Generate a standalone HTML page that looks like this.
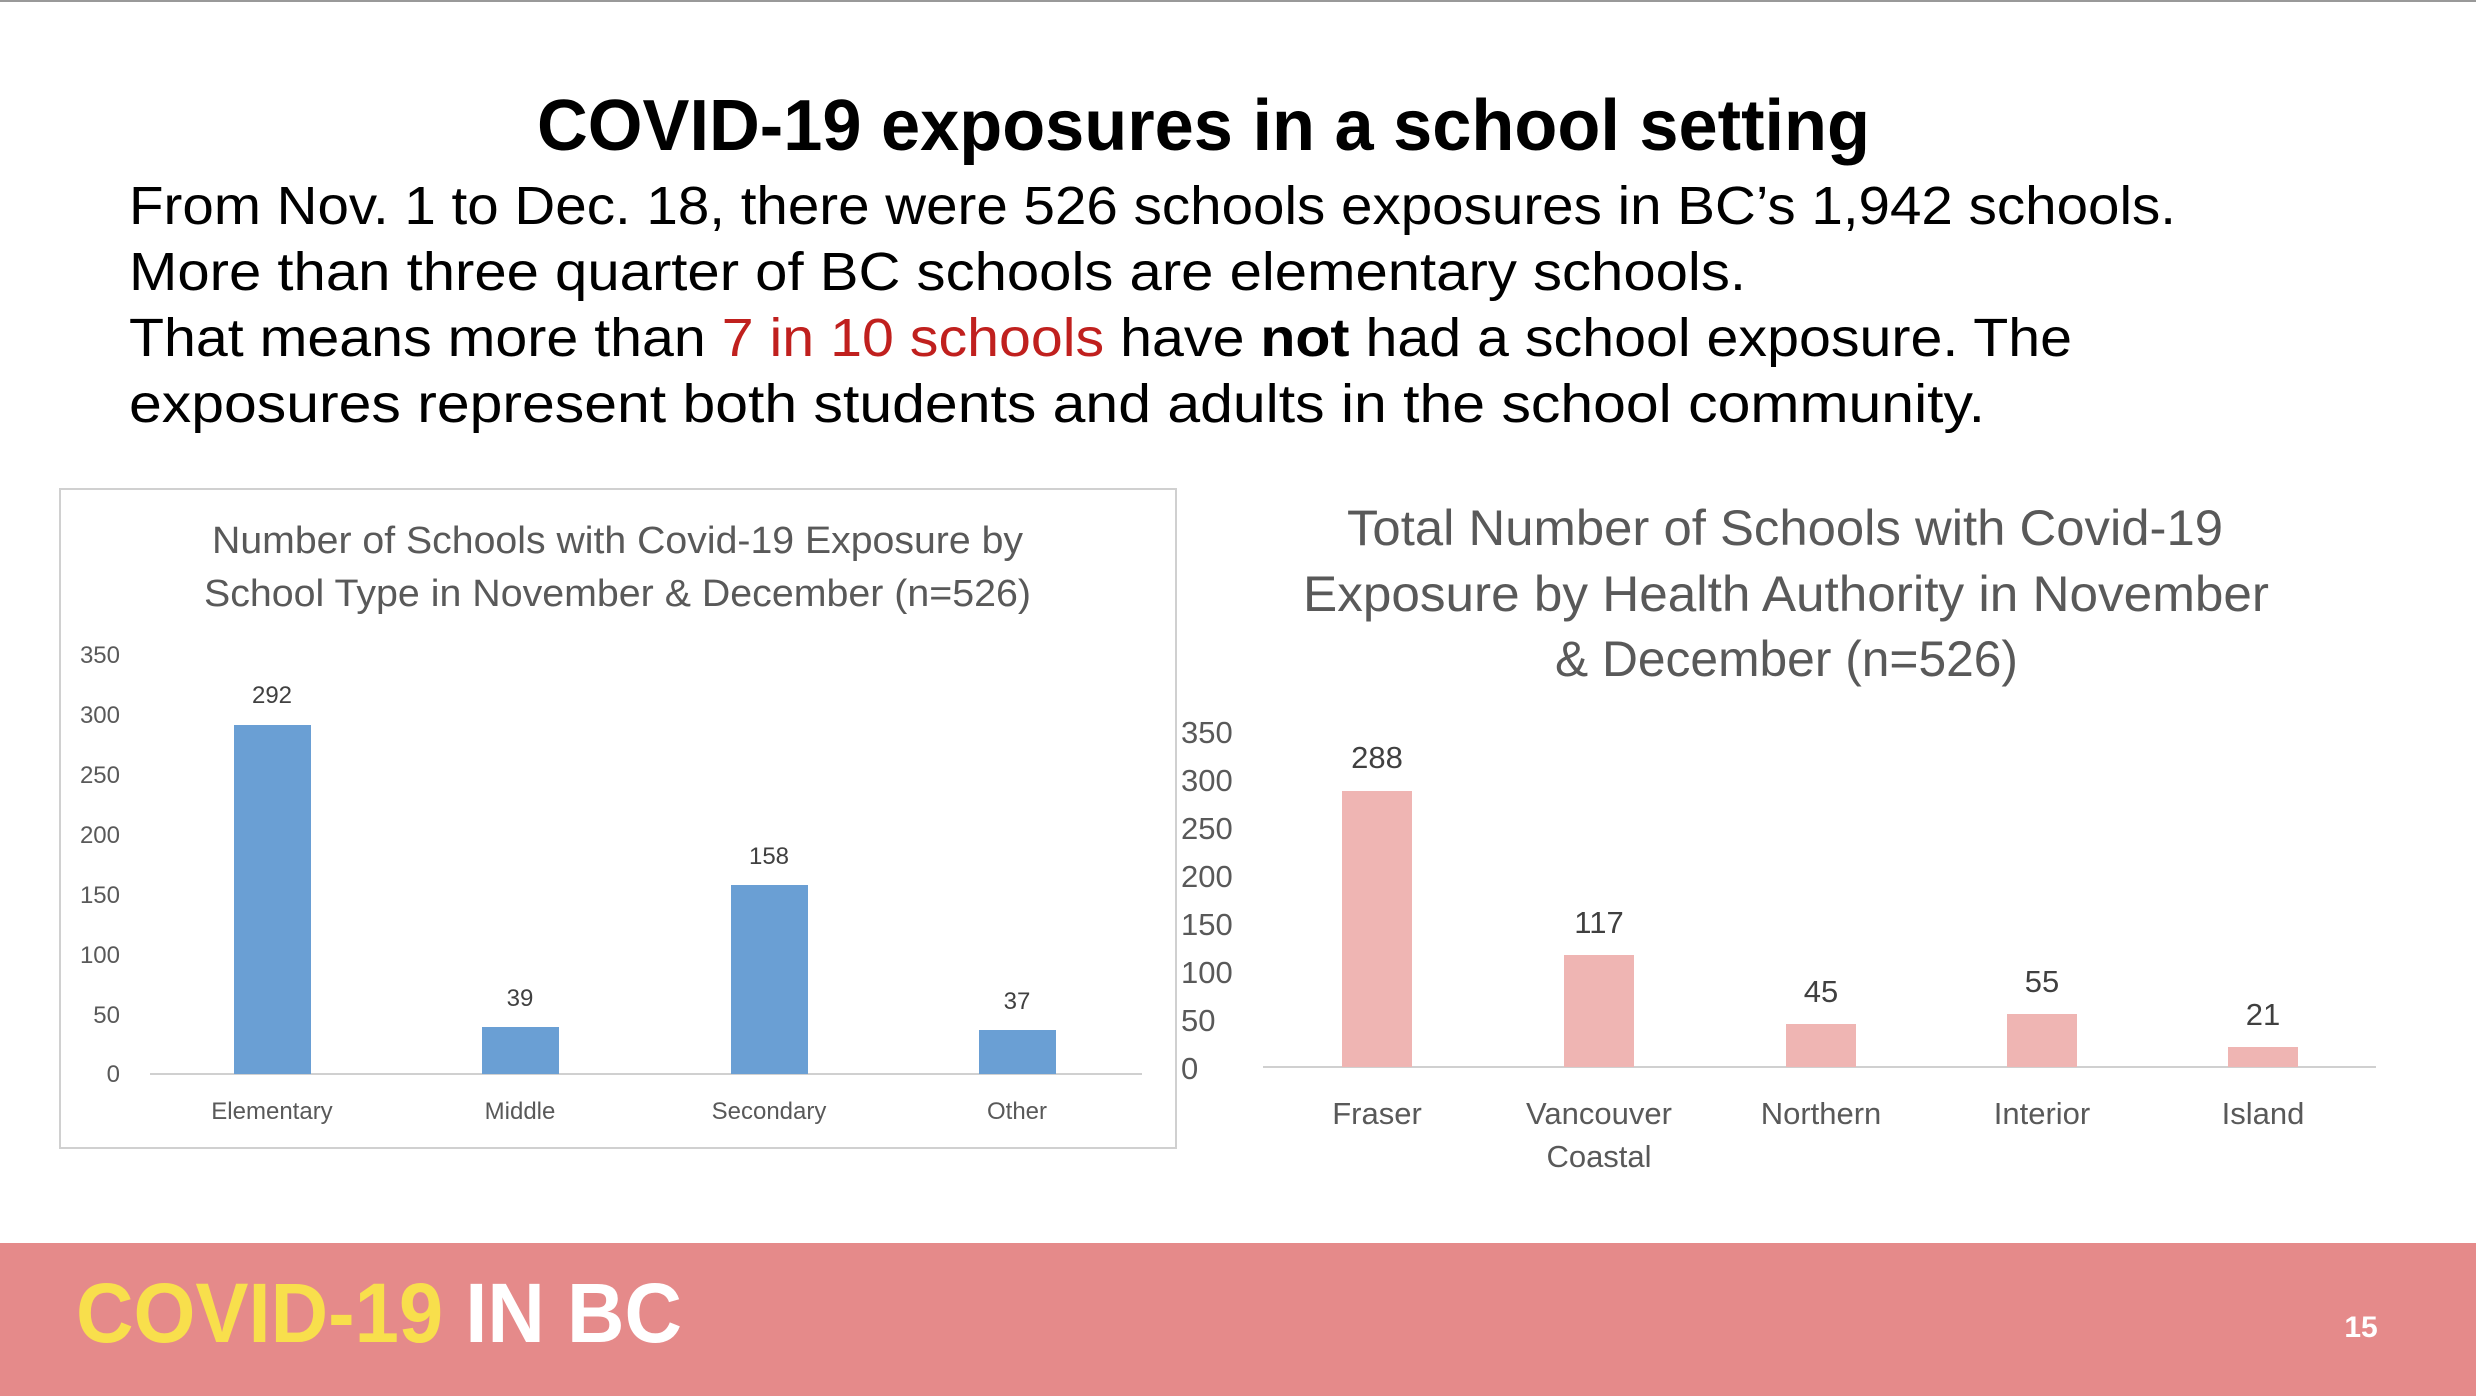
<!DOCTYPE html>
<html><head><meta charset="utf-8"><style>
html,body{margin:0;padding:0;background:#fff;}
svg{display:block;}
text{font-family:"Liberation Sans","DejaVu Sans",sans-serif;}
</style></head><body>
<svg width="2476" height="1396" viewBox="0 0 2476 1396" xmlns="http://www.w3.org/2000/svg">
<rect width="2476" height="1396" fill="#fff"/>
<line x1="0" y1="1" x2="2476" y2="1" stroke="#999" stroke-width="2"/>
<text x="537" y="150" font-size="72" font-weight="bold" fill="#000" textLength="1333" lengthAdjust="spacingAndGlyphs">COVID-19 exposures in a school setting</text>
<g font-size="54" fill="#000">
<text x="129" y="224" textLength="2047" lengthAdjust="spacingAndGlyphs">From Nov. 1 to Dec. 18, there were 526 schools exposures in BC’s 1,942 schools.</text>
<text x="129" y="290" textLength="1617" lengthAdjust="spacingAndGlyphs">More than three quarter of BC schools are elementary schools.</text>
<text x="129" y="356" textLength="1943" lengthAdjust="spacingAndGlyphs">That means more than <tspan fill="#c0201e">7 in 10 schools</tspan> have <tspan font-weight="bold">not</tspan> had a school exposure. The</text>
<text x="129" y="422" textLength="1856" lengthAdjust="spacingAndGlyphs">exposures represent both students and adults in the school community.</text>
</g>
<rect x="60" y="489" width="1116" height="659" fill="#fff" stroke="#d0d0d0" stroke-width="2"/>
<g fill="#595959">
<text x="212" y="553" font-size="38" textLength="811" lengthAdjust="spacingAndGlyphs">Number of Schools with Covid-19 Exposure by</text>
<text x="204" y="606" font-size="38" textLength="827" lengthAdjust="spacingAndGlyphs">School Type in November &amp; December (n=526)</text>
<g font-size="24" text-anchor="end">
<text x="120" y="663">350</text><text x="120" y="723">300</text><text x="120" y="783">250</text>
<text x="120" y="843">200</text><text x="120" y="903">150</text><text x="120" y="963">100</text>
<text x="120" y="1023">50</text><text x="120" y="1082">0</text>
</g>
</g>
<line x1="150" y1="1074" x2="1142" y2="1074" stroke="#d0d0d0" stroke-width="2"/>
<g fill="#6a9fd4">
<rect x="234" y="725" width="77" height="349"/>
<rect x="482" y="1027" width="77" height="47"/>
<rect x="731" y="885" width="77" height="189"/>
<rect x="979" y="1030" width="77" height="44"/>
</g>
<g font-size="24" fill="#404040" text-anchor="middle">
<text x="272" y="703">292</text><text x="520" y="1006">39</text><text x="769" y="864">158</text><text x="1017" y="1009">37</text>
</g>
<g font-size="24" fill="#595959" text-anchor="middle">
<text x="272" y="1119">Elementary</text><text x="520" y="1119">Middle</text><text x="769" y="1119">Secondary</text><text x="1017" y="1119">Other</text>
</g>
<g fill="#595959" font-size="50">
<text x="1347" y="545" textLength="876" lengthAdjust="spacingAndGlyphs">Total Number of Schools with Covid-19</text>
<text x="1303" y="611" textLength="966" lengthAdjust="spacingAndGlyphs">Exposure by Health Authority in November</text>
<text x="1555" y="676" textLength="463" lengthAdjust="spacingAndGlyphs">&amp; December (n=526)</text>
</g>
<g font-size="31" fill="#595959">
<text x="1181" y="743">350</text><text x="1181" y="791">300</text><text x="1181" y="839">250</text>
<text x="1181" y="887">200</text><text x="1181" y="935">150</text><text x="1181" y="983">100</text>
<text x="1181" y="1031">50</text><text x="1181" y="1079">0</text>
</g>
<line x1="1263" y1="1067" x2="2376" y2="1067" stroke="#d0d0d0" stroke-width="2"/>
<g fill="#efb5b3">
<rect x="1342" y="791" width="70" height="276"/>
<rect x="1564" y="955" width="70" height="112"/>
<rect x="1786" y="1024" width="70" height="43"/>
<rect x="2007" y="1014" width="70" height="53"/>
<rect x="2228" y="1047" width="70" height="20"/>
</g>
<g font-size="31" fill="#404040" text-anchor="middle">
<text x="1377" y="768">288</text><text x="1599" y="933">117</text><text x="1821" y="1002">45</text><text x="2042" y="992">55</text><text x="2263" y="1025">21</text>
</g>
<g font-size="31" fill="#595959" text-anchor="middle">
<text x="1377" y="1124">Fraser</text><text x="1599" y="1124">Vancouver</text><text x="1599" y="1167">Coastal</text>
<text x="1821" y="1124">Northern</text><text x="2042" y="1124">Interior</text><text x="2263" y="1124">Island</text>
</g>
<rect x="0" y="1243" width="2476" height="153" fill="#e58a8a"/>
<text x="76" y="1342" font-size="84" font-weight="bold" textLength="606" lengthAdjust="spacingAndGlyphs"><tspan fill="#f8df4c">COVID-19</tspan><tspan fill="#fff"> IN BC</tspan></text>
<text x="2361" y="1337" font-size="30" font-weight="bold" fill="#fff" text-anchor="middle">15</text>
</svg>
</body></html>
